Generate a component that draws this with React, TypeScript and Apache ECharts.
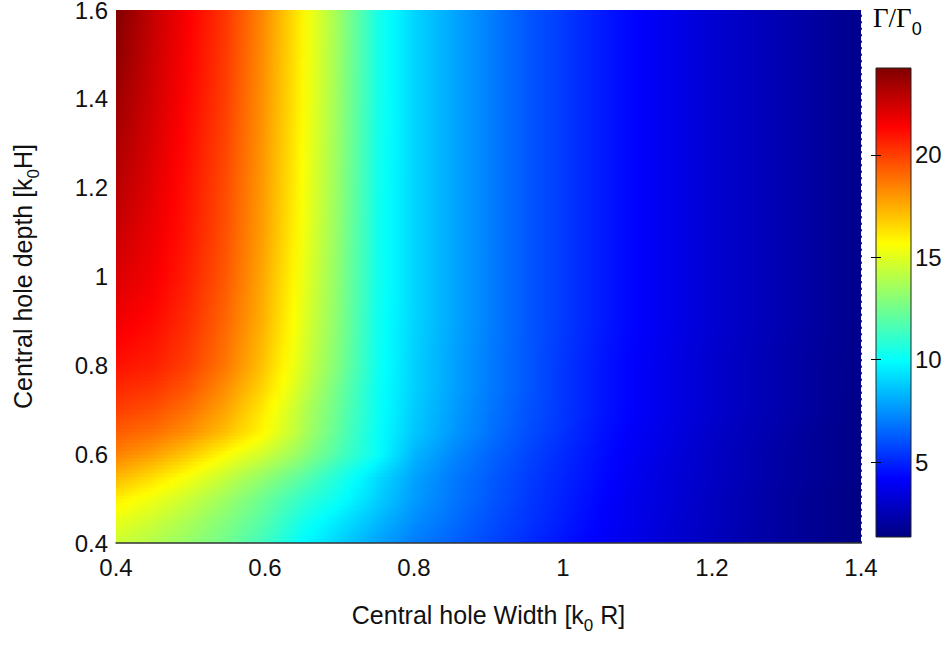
import React, { useEffect, useRef } from "react";
import * as echarts from "echarts";

// Grid nodes: x = central hole width, y = central hole depth
const xValues = [0.4, 0.45, 0.5, 0.55, 0.6, 0.65, 0.7, 0.75, 0.8, 0.85, 0.9, 0.95, 1.0, 1.05, 1.1, 1.15, 1.2, 1.25, 1.3, 1.35, 1.4];
const yValues = [0.4, 0.45, 0.5, 0.55, 0.6, 0.65, 0.7, 0.75, 0.8, 0.9, 1.0, 1.1, 1.2, 1.4, 1.6];

// Γ/Γ0 values, one row per depth
const row040 = [14.5, 13.9, 13.2, 12.4, 11.3, 9.9, 8.9, 7.9, 7.0, 6.4, 5.8, 5.2, 4.6, 4.1, 3.6, 3.1, 2.7, 2.3, 2.0, 1.7, 1.4];
const row045 = [15.2, 14.5, 13.7, 12.8, 11.8, 10.4, 9.4, 8.4, 7.4, 6.7, 6.0, 5.4, 4.8, 4.2, 3.7, 3.2, 2.8, 2.4, 2.0, 1.7, 1.4];
const row050 = [16.0, 15.3, 14.4, 13.4, 12.3, 11.1, 10.1, 8.9, 7.7, 6.9, 6.2, 5.5, 4.9, 4.3, 3.7, 3.3, 2.8, 2.4, 2.0, 1.7, 1.4];
const row055 = [17.3, 16.4, 15.4, 14.3, 13.2, 12.0, 10.6, 9.2, 7.9, 7.0, 6.3, 5.6, 5.0, 4.4, 3.8, 3.3, 2.9, 2.5, 2.1, 1.8, 1.5];
const row060 = [18.5, 17.8, 16.8, 15.6, 14.5, 13.2, 11.6, 10.1, 8.3, 7.3, 6.5, 5.8, 5.1, 4.5, 3.9, 3.4, 2.9, 2.5, 2.1, 1.8, 1.5];
const row065 = [19.3, 18.9, 18.1, 17.0, 15.7, 13.9, 12.0, 10.1, 8.7, 7.7, 6.8, 6.0, 5.3, 4.6, 4.0, 3.5, 3.0, 2.6, 2.2, 1.8, 1.5];
const row070 = [20.0, 19.6, 18.8, 17.6, 16.0, 14.1, 12.2, 10.2, 8.8, 7.8, 6.9, 6.1, 5.4, 4.7, 4.1, 3.6, 3.1, 2.7, 2.3, 1.9, 1.5];
const row075 = [20.5, 20.2, 19.4, 18.1, 16.5, 14.5, 12.4, 10.2, 8.9, 7.9, 7.0, 6.2, 5.4, 4.7, 4.1, 3.6, 3.1, 2.7, 2.3, 1.9, 1.6];
const row080 = [21.0, 20.7, 19.9, 18.6, 16.9, 14.8, 12.7, 10.3, 8.9, 7.9, 7.0, 6.2, 5.4, 4.7, 4.1, 3.6, 3.1, 2.7, 2.3, 1.9, 1.6];
const row090 = [21.7, 21.2, 20.3, 19.0, 17.3, 15.1, 12.9, 10.3, 9.0, 8.0, 7.1, 6.2, 5.5, 4.8, 4.2, 3.7, 3.2, 2.8, 2.4, 2.0, 1.6];
const row100 = [22.2, 21.6, 20.6, 19.3, 17.5, 15.3, 13.0, 10.4, 9.0, 8.0, 7.1, 6.2, 5.5, 4.8, 4.2, 3.7, 3.2, 2.8, 2.4, 2.0, 1.6];
const row110 = [22.6, 21.8, 20.8, 19.5, 17.7, 15.5, 13.1, 10.4, 9.0, 8.0, 7.1, 6.2, 5.5, 4.8, 4.2, 3.7, 3.2, 2.8, 2.4, 2.0, 1.6];
const row120 = [23.0, 22.0, 20.9, 19.6, 17.8, 15.6, 13.2, 10.4, 9.0, 8.0, 7.1, 6.2, 5.5, 4.8, 4.2, 3.7, 3.2, 2.8, 2.4, 2.0, 1.6];
const row140 = [23.6, 22.4, 21.2, 19.9, 18.0, 15.8, 13.3, 10.5, 9.0, 8.0, 7.1, 6.2, 5.5, 4.8, 4.2, 3.7, 3.2, 2.8, 2.4, 2.0, 1.6];
const row160 = [24.2, 22.7, 21.4, 20.1, 18.2, 15.9, 13.4, 10.5, 9.0, 8.0, 7.1, 6.2, 5.5, 4.8, 4.2, 3.7, 3.2, 2.8, 2.4, 2.0, 1.6];
const zRows = [row040, row045, row050, row055, row060, row065, row070, row075, row080, row090, row100, row110, row120, row140, row160];

// colour scale limits and colourbar ticks
const cbMin = 1.34;
const cbMax = 24.24;
const cbTicks = [5, 10, 15, 20];

const FONT = "'Liberation Sans', Arial, Helvetica, sans-serif";
const SERIF = "'Liberation Serif', 'Times New Roman', serif";

function clamp01(v: number) {
  return Math.max(0, Math.min(1, v));
}
function jet(t: number) {
  t = clamp01(t);
  const r = clamp01(Math.min(4 * t - 1.5, -4 * t + 4.5));
  const g = clamp01(Math.min(4 * t - 0.5, -4 * t + 3.5));
  const b = clamp01(Math.min(4 * t + 0.5, -4 * t + 2.5));
  return `rgb(${Math.round(r * 255)},${Math.round(g * 255)},${Math.round(b * 255)})`;
}
function colorOf(v: number) {
  return jet((v - cbMin) / (cbMax - cbMin));
}

export default function App() {
  const ref = useRef<HTMLDivElement>(null);
  useEffect(() => {
    if (!ref.current) return;
    const chart = echarts.init(ref.current, undefined, { renderer: "svg" });

    const cells: number[][] = [];
    for (let j = 0; j < yValues.length - 1; j++) {
      for (let i = 0; i < xValues.length - 1; i++) {
        cells.push([xValues[i], yValues[j], i, j]);
      }
    }

    const renderCell = (params: any, api: any) => {
      const i = api.value(2);
      const j = api.value(3);
      const p0 = api.coord([xValues[i], yValues[j]]);
      const p1 = api.coord([xValues[i + 1], yValues[j + 1]]);
      const left = p0[0];
      const right = p1[0];
      const bottom = p0[1];
      const top = p1[1];
      const h = bottom - top;
      const n = Math.max(2, Math.round(h / 4));
      const z00 = zRows[j][i];
      const z10 = zRows[j][i + 1];
      const z01 = zRows[j + 1][i];
      const z11 = zRows[j + 1][i + 1];
      const children: any[] = [];
      for (let k = 0; k < n; k++) {
        const f = (k + 0.5) / n;
        const vL = z00 + (z01 - z00) * f;
        const vR = z10 + (z11 - z10) * f;
        const stops = [0, 0.25, 0.5, 0.75, 1].map((s) => ({
          offset: s,
          color: colorOf(vL + (vR - vL) * s),
        }));
        const yTop = bottom - ((k + 1) / n) * h;
        children.push({
          type: "rect",
          shape: { x: left - 0.5, y: yTop - 0.5, width: right - left + 1, height: h / n + 1 },
          style: { fill: new echarts.graphic.LinearGradient(0, 0, 1, 0, stops) },
        });
      }
      return { type: "group", children };
    };

    const renderBar = (params: any, api: any) => {
      const p0 = api.coord([0, cbMax]);
      const p1 = api.coord([1, cbMin]);
      const stopsT = [1, 0.875, 0.625, 0.375, 0.125, 0];
      const stops = stopsT.map((t) => ({ offset: 1 - t, color: jet(t) }));
      return {
        type: "rect",
        shape: { x: p0[0], y: p0[1], width: p1[0] - p0[0], height: p1[1] - p0[1] },
        style: {
          fill: new echarts.graphic.LinearGradient(0, 0, 0, 1, stops),
          stroke: "#222",
          lineWidth: 1,
        },
      };
    };

    const subRich = {
      t: { fontSize: 25, fontFamily: FONT, color: "#111", lineHeight: 38 },
      s: { fontSize: 17, fontFamily: FONT, color: "#111", lineHeight: 17, verticalAlign: "bottom" },
    };

    const option: any = {
      animation: false,
      backgroundColor: "#fff",
      textStyle: { fontFamily: FONT },
      grid: [
        { left: 116, top: 10, width: 745, height: 533, containLabel: false, outerBoundsMode: "none" },
        { left: 876, top: 68, width: 35, height: 469, containLabel: false, outerBoundsMode: "none" },
      ],
      xAxis: [
        {
          gridIndex: 0,
          type: "value",
          min: 0.4,
          max: 1.4,
          interval: 0.2,
          z: 10,
          axisLine: { show: true, onZero: false, lineStyle: { color: "#333", width: 1.5 } },
          axisTick: { show: false },
          splitLine: { show: false },
          axisLabel: { fontSize: 24, color: "#111", margin: 12, fontFamily: FONT },
          name: "{t|Central hole Width [k}{s|0}{t| R]}",
          nameLocation: "middle",
          nameGap: 53,
          nameTextStyle: { rich: subRich },
        },
        { gridIndex: 1, type: "value", min: 0, max: 1, show: false },
      ],
      yAxis: [
        {
          gridIndex: 0,
          type: "value",
          min: 0.4,
          max: 1.6,
          interval: 0.2,
          axisLine: { show: false },
          axisTick: { show: false },
          splitLine: { show: false },
          axisLabel: { fontSize: 24, color: "#111", margin: 8, fontFamily: FONT, padding: [6, 0, 0, 0] },
          name: "{t|Central hole depth [k}{s|0}{t|H]}",
          nameLocation: "middle",
          nameGap: 74,
          nameRotate: 90,
          nameTextStyle: { rich: subRich },
        },
        {
          gridIndex: 0,
          type: "value",
          position: "right",
          min: 0.4,
          max: 1.6,
          z: 10,
          axisLine: { show: true, lineStyle: { color: "#333", width: 1, type: [1.5, 5] } },
          axisTick: { show: false },
          axisLabel: { show: false },
          splitLine: { show: false },
        },
        {
          gridIndex: 1,
          type: "value",
          position: "right",
          min: cbMin,
          max: cbMax,
          z: 10,
          axisLine: { show: false },
          axisTick: { show: true, inside: true, length: 5, customValues: cbTicks, lineStyle: { color: "#000" } },
          axisLabel: { customValues: cbTicks, fontSize: 24, color: "#111", margin: 4, fontFamily: FONT, padding: [4, 0, 0, 0] },
          splitLine: { show: false },
        },
        {
          gridIndex: 1,
          type: "value",
          position: "left",
          min: cbMin,
          max: cbMax,
          z: 10,
          axisLine: { show: false },
          axisTick: { show: true, inside: true, length: 5, customValues: cbTicks, lineStyle: { color: "#000" } },
          axisLabel: { show: false },
          splitLine: { show: false },
        },
      ],
      graphic: [
        {
          type: "text",
          left: 873,
          top: 4,
          style: {
            text: "{g|Γ/Γ}{s|0}",
            rich: {
              g: { fontSize: 27, fontFamily: SERIF, color: "#111", lineHeight: 40 },
              s: { fontSize: 18, fontFamily: FONT, color: "#111", lineHeight: 18, verticalAlign: "bottom" },
            },
          },
        },
      ],
      series: [
        {
          type: "custom",
          xAxisIndex: 0,
          yAxisIndex: 0,
          clip: true,
          data: cells,
          encode: { x: 0, y: 1 },
          renderItem: renderCell,
          silent: true,
        },
        {
          type: "custom",
          xAxisIndex: 1,
          yAxisIndex: 2,
          data: [[0, cbMin]],
          encode: { x: 0, y: 1 },
          renderItem: renderBar,
          silent: true,
        },
      ],
    };
    chart.setOption(option);
    return () => chart.dispose();
  }, []);
  return <div ref={ref} style={{ position: "fixed", left: 0, top: 0, width: 945, height: 646 }} />;
}
